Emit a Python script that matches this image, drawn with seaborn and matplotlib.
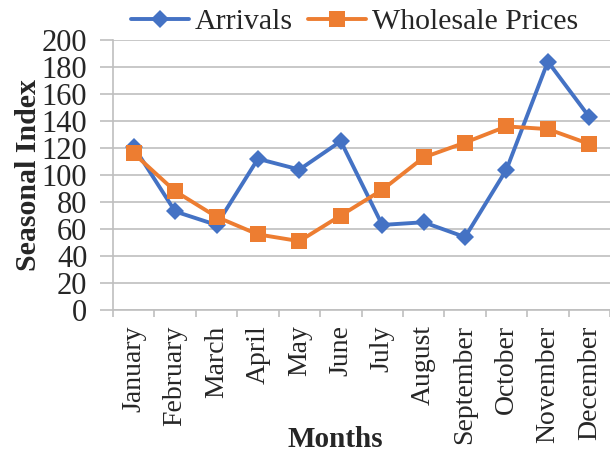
import pandas as pd
import seaborn as sns
import matplotlib.pyplot as plt
from matplotlib.ticker import FixedLocator

months = ['January', 'February', 'March', 'April', 'May', 'June', 'July',
          'August', 'September', 'October', 'November', 'December']
arrivals = [121, 73, 63, 112, 104, 125, 63, 65, 54, 104, 184, 143]
wholesale = [116, 88, 69, 56, 51, 70, 89, 113, 124, 136, 134, 123]

sns.set_style('white')
plt.rcParams['font.family'] = ['Liberation Serif', 'DejaVu Serif']

df = pd.DataFrame({'Month': months, 'Arrivals': arrivals, 'Wholesale Prices': wholesale})

fig = plt.figure(figsize=(6.1, 4.54), dpi=100)
ax = fig.add_axes([113 / 610, 1 - 310 / 454, 497 / 610, 270 / 454])

sns.lineplot(data=df, x='Month', y='Arrivals', sort=False, color='#4472C4',
             linewidth=2.8, marker='D', markersize=9, markeredgewidth=0,
             label='Arrivals', ax=ax)
sns.lineplot(data=df, x='Month', y='Wholesale Prices', sort=False, color='#ED7D31',
             linewidth=2.8, marker='s', markersize=11, markeredgewidth=0,
             label='Wholesale Prices', ax=ax)

ax.set_xlim(-0.5, 11.5)
ax.set_ylim(0, 200)
ax.set_yticks(range(0, 201, 20))
ax.yaxis.grid(True, color='#BFBFBF', linewidth=1.2)
ax.set_axisbelow(True)

for s in ['top', 'right']:
    ax.spines[s].set_visible(False)
for s in ['left', 'bottom']:
    ax.spines[s].set_color('#BFBFBF')
    ax.spines[s].set_linewidth(1.2)

ax.set_xticks(range(12))
ax.set_xticklabels(months, rotation=90, fontsize=20)
ax.xaxis.set_minor_locator(FixedLocator([i - 0.5 for i in range(13)]))
ax.tick_params(axis='x', which='major', length=0, pad=11)
ax.tick_params(axis='x', which='minor', length=5, color='#BFBFBF', width=1.2, direction='out', bottom=True)
ax.tick_params(axis='y', length=9.5, color='#BFBFBF', width=1.2, direction='out', left=True, labelsize=22, pad=9)

ax.set_xlabel('Months', fontsize=21, fontweight='bold')
ax.xaxis.set_label_coords(0.448, -0.43)
ax.xaxis.label.set_va('top')
ax.set_ylabel('Seasonal Index', fontsize=21.5, fontweight='bold', labelpad=0)

ax.legend(loc='center', bbox_to_anchor=(0.486, 1.067), ncol=2, frameon=False,
          fontsize=21.5, handlelength=1.95, handletextpad=0.2, columnspacing=0.5,
          borderaxespad=0, borderpad=0)

fig.savefig('out.png', dpi=100)
